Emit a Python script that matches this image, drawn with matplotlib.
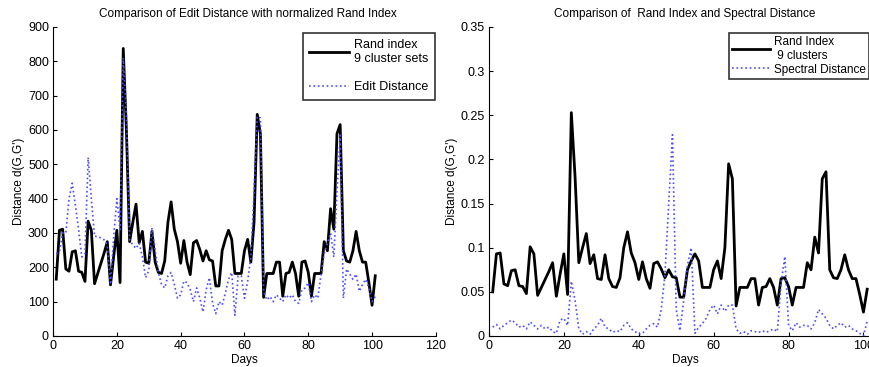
import numpy as np
import matplotlib.pyplot as plt
from matplotlib.ticker import FormatStrFormatter

plt.rcParams["font.family"] = ["Liberation Sans", "DejaVu Sans"]

days = np.arange(1, 102)

# Rand index, 9 clusters (right panel scale)
rand_index = [
    0.050, 0.093, 0.094, 0.059, 0.057, 0.074, 0.075, 0.057, 0.056, 0.048,
    0.101, 0.093, 0.046, 0.055, 0.064, 0.073, 0.083, 0.045, 0.070, 0.093,
    0.047, 0.253, 0.180, 0.083, 0.100, 0.116, 0.082, 0.092, 0.065, 0.064,
    0.092, 0.065, 0.056, 0.055, 0.066, 0.100, 0.118, 0.094, 0.083, 0.064,
    0.084, 0.065, 0.054, 0.082, 0.084, 0.076, 0.066, 0.075, 0.067, 0.066,
    0.044, 0.044, 0.075, 0.085, 0.093, 0.085, 0.055, 0.055, 0.055, 0.075,
    0.085, 0.065, 0.100, 0.195, 0.178, 0.034, 0.055, 0.055, 0.055, 0.065,
    0.065, 0.035, 0.055, 0.056, 0.065, 0.055, 0.035, 0.065, 0.066, 0.056,
    0.035, 0.055, 0.055, 0.055, 0.083, 0.075, 0.112, 0.094, 0.178, 0.186,
    0.075, 0.066, 0.065, 0.075, 0.092, 0.075, 0.065, 0.065, 0.047, 0.027,
    0.053,
]
rand_scale = 3310  # normalisation used in the left panel

edit_distance = [
    240, 245, 300, 300, 400, 445, 380, 310, 230, 240,
    520, 400, 290, 290, 285, 280, 265, 150, 290, 400,
    310, 810, 640, 280, 265, 255, 270, 230, 170, 190,
    315, 250, 185, 150, 140, 175, 185, 150, 110, 120,
    160, 155, 135, 100, 140, 110, 70, 135, 170, 95,
    65, 100, 90, 125, 165, 185, 60, 175, 175, 110,
    160, 230, 420, 640, 635, 130, 105, 115, 100, 120,
    110, 100, 120, 110, 120, 100, 95, 135, 140, 155,
    100, 120, 110, 180, 240, 270, 300, 230, 420, 585,
    110, 195, 180, 165, 180, 130, 150, 165, 140, 100,
    115,
]

spectral_distance = [
    0.010, 0.013, 0.008, 0.012, 0.015, 0.018, 0.015, 0.010, 0.012, 0.008,
    0.016, 0.012, 0.008, 0.012, 0.008, 0.010, 0.005, 0.003, 0.018, 0.020,
    0.012, 0.062, 0.040, 0.008, 0.002, 0.005, 0.002, 0.008, 0.012, 0.020,
    0.010, 0.008, 0.004, 0.006, 0.005, 0.012, 0.015, 0.008, 0.005, 0.002,
    0.003, 0.008, 0.012, 0.014, 0.010, 0.030, 0.070, 0.150, 0.228, 0.030,
    0.006, 0.040, 0.080, 0.100, 0.003, 0.010, 0.014, 0.020, 0.030, 0.035,
    0.025, 0.035, 0.028, 0.035, 0.035, 0.008, 0.003, 0.005, 0.002, 0.006,
    0.005, 0.004, 0.006, 0.004, 0.006, 0.008, 0.005, 0.060, 0.090, 0.012,
    0.006, 0.015, 0.010, 0.012, 0.012, 0.008, 0.015, 0.030, 0.025, 0.020,
    0.012, 0.008, 0.012, 0.015, 0.010, 0.012, 0.008, 0.006, 0.003, 0.000,
    0.017,
]

blue = (0.3, 0.3, 1.0)

fig = plt.figure(figsize=(8.7, 3.67), dpi=100)
ax1 = fig.add_axes([0.061, 0.0845, 0.440, 0.842])
ax2 = fig.add_axes([0.562, 0.0845, 0.452, 0.842])

# ── Left: edit distance vs normalised Rand index ───────────────────────────
ax1.plot(days, np.array(rand_index) * rand_scale, color="black", lw=2,
         label="Rand index\n9 cluster sets")
ax1.plot(days, edit_distance, color=blue, lw=1.2, ls=":",
         label="Edit Distance")
ax1.set_xlim(0, 120)
ax1.set_ylim(0, 900)
ax1.set_xticks(range(0, 121, 20))
ax1.set_yticks(range(0, 901, 100))
ax1.set_xlabel("Days", fontsize=8.5, labelpad=1)
ax1.set_ylabel("Distance d(G,G')", fontsize=8.5, labelpad=2)
fig.text(0.285, 0.962, "Comparison of Edit Distance with normalized Rand Index",
         ha="center", va="center", fontsize=8.5)
leg1 = ax1.legend(loc="upper right", bbox_to_anchor=(0.5, 0.91),
                  bbox_transform=fig.transFigure, fontsize=9, frameon=True,
                  fancybox=False, edgecolor="black", labelspacing=1.3,
                  handlelength=3.2, handletextpad=0.4, borderpad=0.5,
                  borderaxespad=0)
leg1.get_frame().set_linewidth(1.2)

# ── Right: Rand index vs spectral distance ─────────────────────────────────
ax2.plot(days, rand_index, color="black", lw=2, label="Rand Index\n 9 clusters")
ax2.plot(days, spectral_distance, color=blue, lw=1.2, ls=":",
         label="Spectral Distance")
ax2.set_xlim(0, 105)
ax2.set_ylim(0, 0.35)
ax2.set_xticks(range(0, 101, 20))
ax2.set_yticks(np.arange(0, 0.351, 0.05))
ax2.yaxis.set_major_formatter(FormatStrFormatter("%g"))
ax2.set_xlabel("Days", fontsize=8.5, labelpad=1)
ax2.set_ylabel("Distance d(G,G')", fontsize=8.5, labelpad=2)
fig.text(0.787, 0.962, "Comparison of  Rand Index and Spectral Distance",
         ha="center", va="center", fontsize=8.5)
leg2 = ax2.legend(loc="upper right", bbox_to_anchor=(0.999, 0.91),
                  bbox_transform=fig.transFigure, fontsize=8.5, frameon=True,
                  fancybox=False, edgecolor="black", labelspacing=0.15,
                  handlelength=3.2, handletextpad=0.4, borderpad=0.25,
                  borderaxespad=0)
leg2.get_frame().set_linewidth(1.2)

for ax in (ax1, ax2):
    ax.spines["top"].set_visible(False)
    ax.spines["right"].set_visible(False)
    ax.tick_params(direction="in", labelsize=9, length=3, pad=3)

plt.savefig("out.png", dpi=100)
plt.close()
